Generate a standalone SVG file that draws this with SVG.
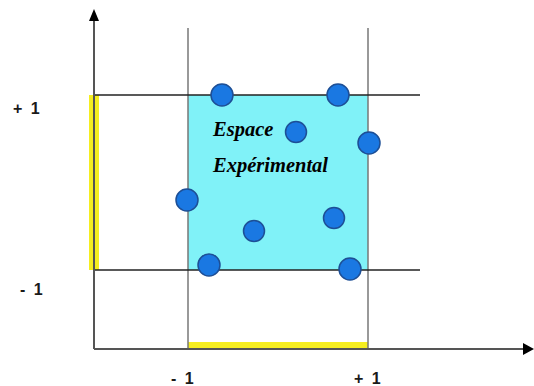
<svg xmlns="http://www.w3.org/2000/svg" width="534" height="386" viewBox="0 0 534 386">
<style>
.ax{stroke:#555;stroke-width:2;fill:none}
.grid{stroke:#777;stroke-width:1.5;fill:none}
.hl{stroke:#222;stroke-width:1.5;fill:none}
.dot{fill:#1a78e2;stroke:#1d4f96;stroke-width:1.5}
.lab{font-family:"Liberation Sans",Arial,sans-serif;font-weight:bold;font-size:16px;fill:#1a1a1a;word-spacing:4px}
.t{font-family:"Liberation Serif","Times New Roman",serif;font-weight:bold;font-style:italic;font-size:20.5px;fill:#000}
</style>
<rect width="534" height="386" fill="#fff"/>
<g id="domain">
<rect x="188" y="95" width="180" height="175" fill="#80f2f8"/>
<rect x="89" y="95" width="10" height="175" fill="#f5ee20"/>
<rect x="188" y="342" width="180" height="8" fill="#f5ee20"/>
</g>
<g id="connectors">
<line class="grid" x1="188" y1="28" x2="188" y2="349"/>
<line class="grid" x1="368" y1="28" x2="368" y2="349"/>
<line class="hl" x1="94" y1="95" x2="420" y2="95"/>
<line class="hl" x1="94" y1="270" x2="420" y2="270"/>
<line class="ax" x1="94" y1="18" x2="94" y2="349"/>
<line class="ax" x1="94" y1="349" x2="525" y2="349"/>
<polygon points="94,9 89,21 99,21" fill="#000"/>
<polygon points="534,349 523,343 523,355" fill="#000"/>
</g>
<g id="points">
<circle class="dot" cx="222" cy="95" r="11"/>
<circle class="dot" cx="338" cy="95" r="11"/>
<circle class="dot" cx="296" cy="132" r="10.5"/>
<circle class="dot" cx="369" cy="143" r="11"/>
<circle class="dot" cx="187" cy="200" r="11"/>
<circle class="dot" cx="254" cy="231" r="10.5"/>
<circle class="dot" cx="334" cy="218" r="10.5"/>
<circle class="dot" cx="209" cy="265" r="11"/>
<circle class="dot" cx="350" cy="269" r="11"/>
</g>
<g id="labels">
<text class="t" x="213" y="136">Espace</text>
<text class="t" x="213" y="172">Expérimental</text>
<text class="lab" x="13" y="114">+ 1</text>
<text class="lab" x="20" y="295">- 1</text>
<text class="lab" x="171" y="384">- 1</text>
<text class="lab" x="354" y="384">+ 1</text>
</g>
</svg>
